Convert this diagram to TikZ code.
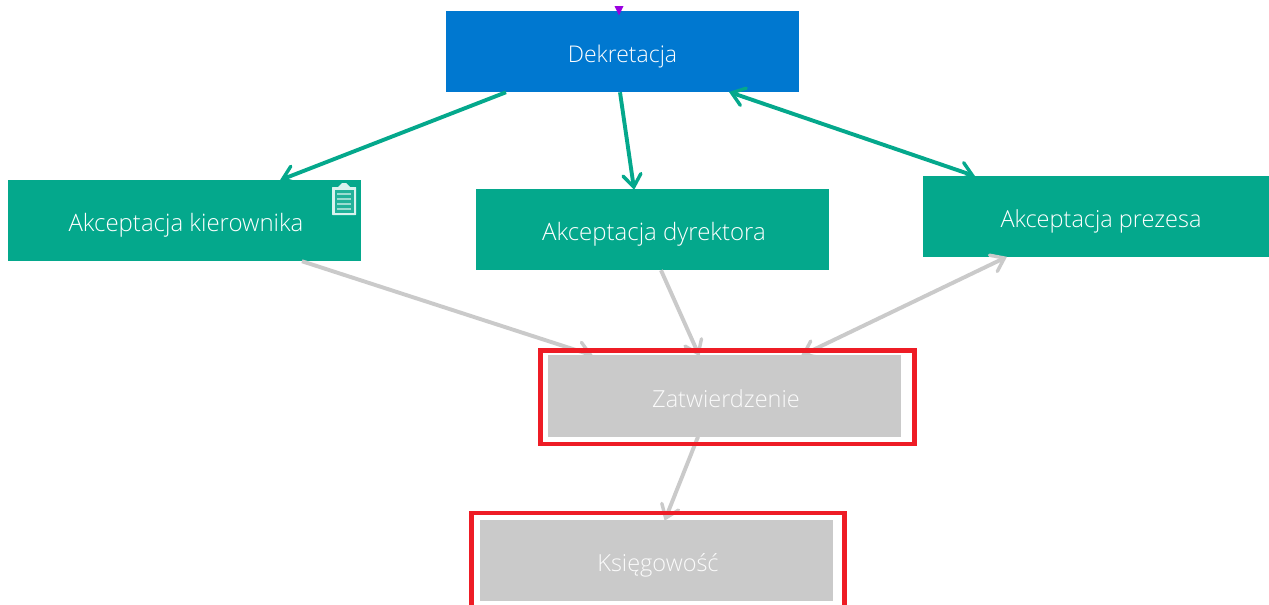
\documentclass[tikz,border=0pt]{standalone}
\usepackage{fontspec}
\setmainfont{Open Sans}[UprightFont=* Light]
\usetikzlibrary{arrows.meta}
\definecolor{grn}{HTML}{04A88C}
\definecolor{blu}{HTML}{0078D0}
\definecolor{gry}{HTML}{CACACA}
\definecolor{rd}{HTML}{EE1C25}
\definecolor{prp}{HTML}{9A00E0}
\pgfdeclarearrow{
  name=VBarb,
  setup code={\pgfarrowssettipend{0pt}\pgfarrowssetlineend{-2pt}\pgfarrowssetbackend{-15pt}\pgfarrowssetvisualbackend{-3pt}\pgfarrowshullpoint{-15pt}{10pt}\pgfarrowshullpoint{-15pt}{-10pt}\pgfarrowshullpoint{0pt}{0pt}},
  drawing code={\pgfsetdash{}{0pt}\pgfsetroundcap\pgfsetmiterjoin\pgfsetlinewidth{3.4pt}\pgfpathmoveto{\pgfqpoint{-14pt}{9pt}}\pgfpathlineto{\pgfqpoint{-1.8pt}{0pt}}\pgfpathlineto{\pgfqpoint{-14pt}{-9pt}}\pgfusepathqstroke},
}
\newcommand{\lbl}[1]{\raisebox{-11pt}[0pt][0pt]{#1}}
\tikzset{
 boxnode/.style={minimum width=353pt,minimum height=81.5pt,inner sep=0pt,outer sep=0pt,text=white,font=\fontsize{23.5}{26}\selectfont},
 bigtext/.style={font=\fontsize{24}{26}\selectfont},
 smalltext/.style={font=\fontsize{23}{26}\selectfont},
 grnbox/.style={boxnode,fill=grn},
 blubox/.style={boxnode,fill=blu},
 grybox/.style={boxnode,fill=gry,text=white!92!gry},
 redframe/.style={draw=rd,line width=4.5pt,inner sep=0pt,outer sep=0pt,minimum width=374.4pt,minimum height=93.5pt},
 gconn/.style={line width=3.9pt,draw=grn,-{VBarb}},
 gconnb/.style={line width=3.9pt,draw=grn,{VBarb}-{VBarb}},
 yconn/.style={line width=3.9pt,draw=gry,-{VBarb}},
 yconnb/.style={line width=3.9pt,draw=gry,{VBarb}-{VBarb}},
}
\begin{document}
\begin{tikzpicture}[x=1pt,y=-1pt]
\clip (0,0) rectangle (1269,605);
\fill[white] (0,0) rectangle (1269,605);
\node[blubox,smalltext] (dek) at (622.5,51.5) {\lbl{Dekretacja}};
\node[grnbox,bigtext] (kier) at (184,220.5) {\hspace*{4pt}\lbl{Akceptacja kierownika}};
\node[grnbox,bigtext] (dyr) at (652.5,229.5) {\hspace*{3pt}\lbl{Akceptacja dyrektora}};
\node[grnbox,minimum width=346pt] (prez) at (1096,216.5) {\hspace*{10pt}\lbl{Akceptacja prezesa}};
\node[grybox] (zat) at (724.5,396) {\hspace*{3pt}\lbl{Zatwierdzenie}};
\node[grybox] (ksi) at (656.5,560.5) {\hspace*{3pt}\lbl{Księgowość}};
% connectors
\draw[gconn] ([xshift=60pt]dek.south west) -- ([xshift=273.5pt]kier.north west);
\draw[gconn] ([xshift=174pt]dek.south west) -- ([xshift=158pt]dyr.north west);
\draw[gconnb] ([xshift=284pt]dek.south west) -- ([xshift=51pt]prez.north west);
\draw[yconn] ([xshift=294.5pt]kier.south west) -- ([xshift=44pt]zat.north west);
\draw[yconn] ([xshift=185pt]dyr.south west) -- ([xshift=151pt]zat.north west);
\draw[yconnb] ([xshift=83pt]prez.south west) -- ([xshift=254pt]zat.north west);
\draw[yconn] ([xshift=150pt]zat.south west) -- ([xshift=185pt]ksi.north west);
% red frames
\node[redframe] (fz) at (727.5,397) {};
\node[redframe,minimum width=373pt,minimum height=107pt] (fk) at (657.85,566.5) {};
% purple marker
\fill[prp] (614.5,6) -- (623.5,6) -- (619,15.5) -- cycle;
% clipboard icon
\fill[white!85!grn,rounded corners=0.5pt] (332,187) rectangle (356,215);
\fill[white!85!grn] (338,187) -- (340,185) -- (342,183) -- (346,183) -- (348,185) -- (350,187) -- cycle;
\fill[white!12!grn] (334.5,190) rectangle (353.5,212.5);
\fill[white!60!grn] (337,193) rectangle (351,195);
\fill[white!60!grn] (337,198) rectangle (351,200);
\fill[white!60!grn] (337,203) rectangle (351,205);
\fill[white!60!grn] (337,207.5) rectangle (351,209.5);
\end{tikzpicture}
\end{document}
